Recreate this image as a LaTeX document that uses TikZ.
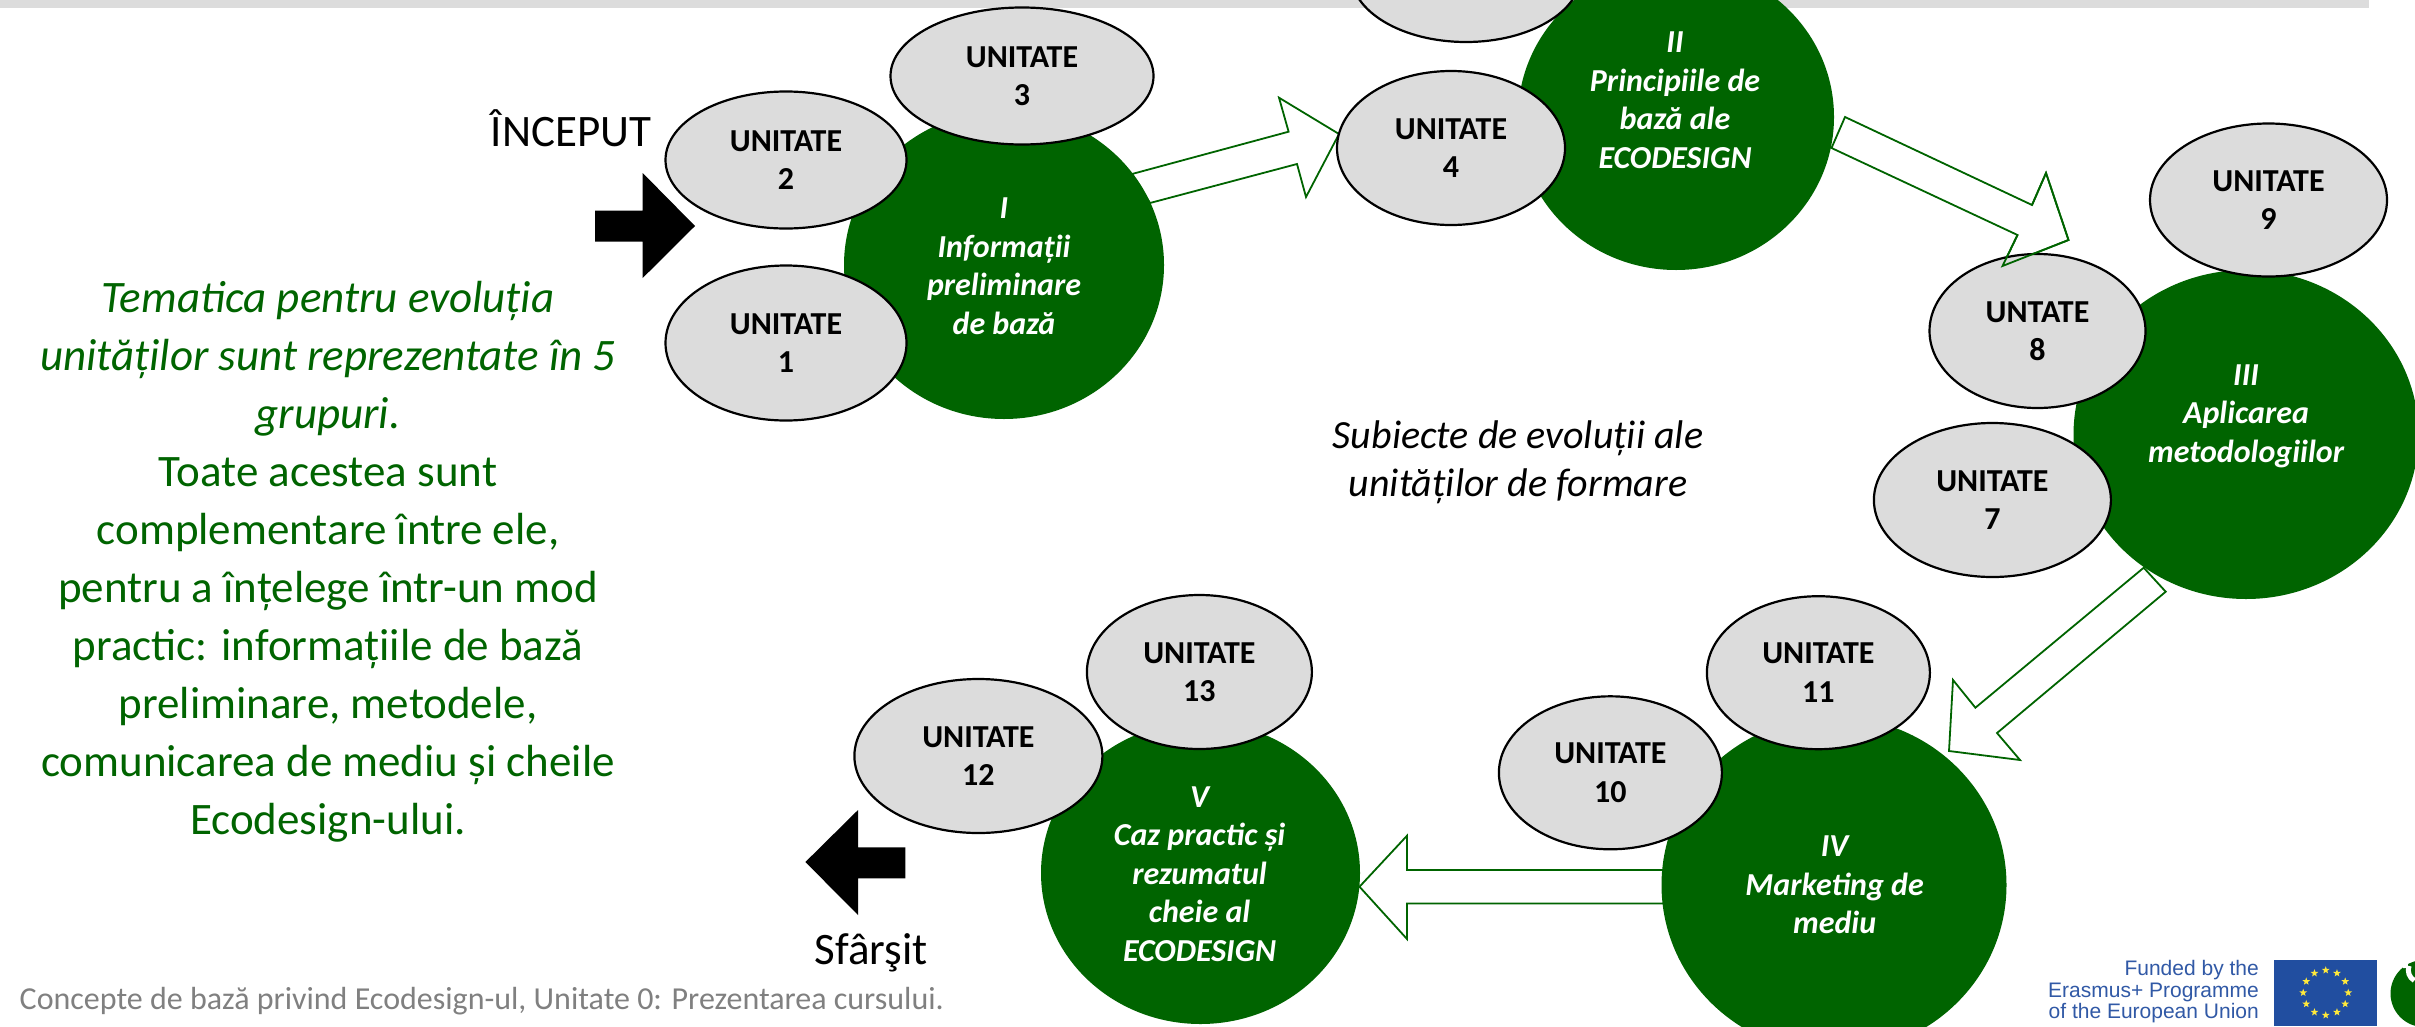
\documentclass[tikz,border=0pt]{standalone}
\usepackage{fontspec}
\setmainfont{Carlito}
\newfontfamily\arialf{Liberation Sans}
\usetikzlibrary{shapes.geometric}
\definecolor{dgreen}{HTML}{006400}
\definecolor{unitgray}{HTML}{DCDCDC}
\definecolor{footgray}{HTML}{808080}
\definecolor{eublue}{HTML}{214EA0}
\definecolor{eutext}{HTML}{3159A6}
\definecolor{eustar}{HTML}{FFE93B}
\tikzset{
  unitnode/.style={ellipse,draw=black,line width=2.2pt,fill=unitgray,inner sep=0pt,outer sep=0pt,align=center,text=black,
    font=\fontsize{32}{38.5}\selectfont\bfseries},
  groupnode/.style={ellipse,fill=dgreen,inner sep=0pt,outer sep=0pt},
  grouptext/.style={align=center,text=white,inner sep=0pt,font=\fontsize{32}{38.5}\selectfont\bfseries\itshape},
  hollowarrow/.style={draw=dgreen,line width=1.8pt,fill=white,line join=miter},
  hollowline/.style={draw=dgreen,line width=1.8pt,line join=miter},
  blackarrow/.style={fill=black},
  sidetext/.style={align=center,text=dgreen,inner sep=0pt,font=\fontsize{45}{58}\selectfont},
  plainlabel/.style={inner sep=0pt,text=black,font=\fontsize{45}{55}\selectfont},
  captiontext/.style={align=center,inner sep=0pt,text=black,font=\fontsize{40}{48}\selectfont\itshape},
}
\newcommand{\unitat}[6]{\node[unitnode,minimum width=#4pt,minimum height=#5pt] (#1) at (#2,#3) {#6};}
\newcommand{\groupat}[5]{\node[groupnode,minimum width=#4pt,minimum height=#5pt] (#1) at (#2,#3) {};}
\begin{document}
\begin{tikzpicture}[x=1pt,y=-1pt]
\clip (0,0) rectangle (2415,1026);
\fill[white] (0,0) rectangle (2415,1026);
% top bar
\fill[unitgray] (0,0) rectangle (2369,8);
% hollow block arrows
\path[hollowarrow] (1132,174) -- (1288.6,131.7) -- (1279,97.7) -- (1339,134) -- (1306,197) -- (1297,164) -- (1150,203) -- cycle;
\path[hollowarrow] (1845,117) -- (2032,205) -- (2046,173) -- (2068.5,240) -- (2002.5,266) -- (2017.5,235) -- (1831.5,148) -- cycle;
\path[hollowarrow] (2143.7,567.7) -- (1975.4,707.7) -- (1953,680) -- (1949,751) -- (2020,760) -- (1997,733) -- (2165.7,591.7) -- cycle;
\path[hollowarrow] (1680,870) -- (1407,870) -- (1407,835.7) -- (1359.5,886.7) -- (1407,939) -- (1407,903.5) -- (1680,903.5) -- cycle;
% black arrows
\path[blackarrow] (595,210.7) -- (642.7,210.7) -- (642.7,173) -- (695,226) -- (642.7,278) -- (642.7,241.7) -- (595,241.7) -- cycle;
\path[blackarrow] (805.4,862) -- (858,810) -- (858,847.3) -- (905.4,847.3) -- (905.4,878.3) -- (858,878.3) -- (858,915) -- cycle;
% group ellipses
\groupat{gI}{1004}{265}{320}{308}
\groupat{gII}{1676}{117}{316}{306}
\groupat{gIII}{2246}{434.5}{345}{329}
\groupat{gIV}{1834}{885}{345}{336}
\groupat{gV}{1200.5}{873}{319}{302}
% units
\unitat{u1}{786}{343}{241}{155}{UNITATE\\1}
\unitat{u2}{786}{160}{241}{137}{UNITATE\\2}
\unitat{u3}{1022}{76}{263}{137}{UNITATE\\3}
\unitat{u4}{1451}{148}{228}{154}{UNITATE\\4}
\node[unitnode,minimum width=230pt,minimum height=136pt] (u5) at (1466,-26) {};
\unitat{u9}{2268.5}{200}{237}{153}{UNITATE\\9}
\unitat{u8}{2037.5}{331}{216}{154}{UNTATE\\8}
\unitat{u7}{1992.4}{500}{237}{154}{UNITATE\\7}
\unitat{u11}{1818.4}{672.7}{223}{153}{UNITATE\\11}
\unitat{u10}{1610.4}{772.8}{223}{153}{UNITATE\\10}
\unitat{u13}{1199.4}{672}{225}{154}{UNITATE\\13}
\unitat{u12}{978.4}{756}{248}{154}{UNITATE\\12}
% arrow outline over unit 8
\path[hollowline] (2032,205) -- (2046,173) -- (2068.5,240) -- (2002.5,266) -- (2017.5,235);
% group labels
\node[grouptext] (tI) at (1004,266) {I\\Informații\\preliminare\\de bază};
\node[grouptext] (tII) at (1675,100) {II\\Principiile de\\bază ale\\ECODESIGN};
\node[grouptext] (tIII) at (2246,416) {III\\Aplicarea\\metodologiilor};
\node[grouptext] (tIV) at (1834.6,885) {IV\\Marketing de\\mediu};
\node[grouptext] (tV) at (1199.6,874) {V\\Caz practic și\\rezumatul\\cheie al\\ECODESIGN};
% free labels
\node[plainlabel] (start) at (571,128) {ÎNCEPUT};
\node[plainlabel] (stop) at (871,953) {Sfârşit};
\node[captiontext] (cap) at (1518,462) {Subiecte de evoluții ale\\unităților de formare};
\node[sidetext,anchor=center] (side) at (328,562) {\itshape Tematica pentru evoluția\\\itshape unităților sunt  reprezentate în 5\\\itshape grupuri.\\Toate acestea sunt\\complementare între ele,\\pentru a înțelege într-un mod\\practic: informațiile de bază\\preliminare, metodele,\\comunicarea de mediu și cheile\\Ecodesign-ului.};
\node[anchor=base east,inner sep=0pt,text=footgray,font=\fontsize{32}{38}\selectfont] (foot) at (944,1009) {Concepte de bază privind Ecodesign-ul, Unitate  0: Prezentarea cursului.};
% funding block
\node[anchor=north east,align=right,inner sep=0pt,text=eutext,font=\fontsize{21}{21.7}\selectfont\arialf] (fund) at (2259,960) {Funded by the\\Erasmus+ Programme\\of the European Union};
\fill[eublue] (2274,960) rectangle (2377,1026);
\foreach \a in {0,30,...,330}{
  \node[star,star points=5,star point ratio=2.4,fill=eustar,inner sep=0pt,minimum size=8pt,name=st\a] at ({2325.7+22.5*cos(\a)},{992.7+22.5*sin(\a)}) {};
}
% logo
\fill[dgreen] (2424,993.5) circle (33.5);
\draw[white,line width=5pt] (2409,966) arc[start angle=200,end angle=120,radius=12];
\draw[white,line width=5pt] (2405.5,968) arc[start angle=170,end angle=260,radius=14];
\end{tikzpicture}
\end{document}
